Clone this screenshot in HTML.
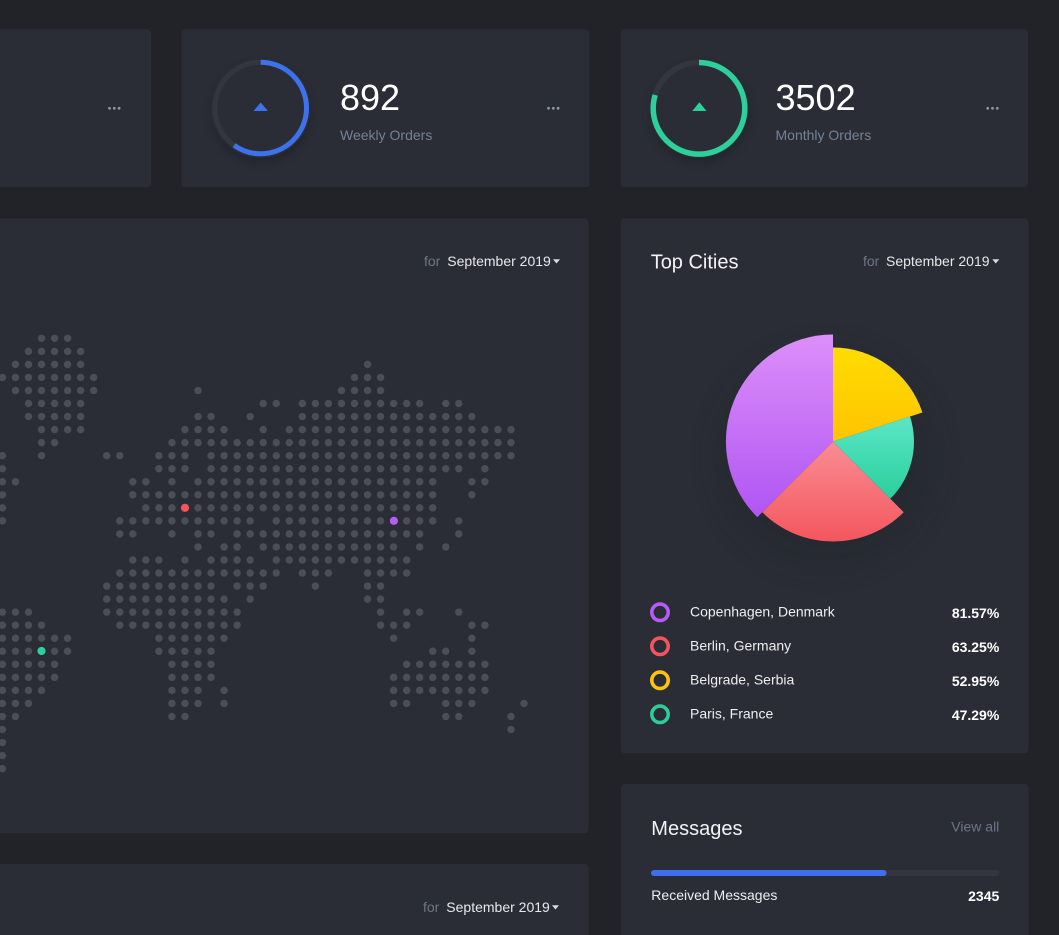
<!DOCTYPE html>
<html><head><meta charset="utf-8"><style>
html,body{margin:0;padding:0;background:#212328;}
svg{display:block;font-family:"Liberation Sans",Arial,sans-serif;}
</style></head><body>
<svg width="1059" height="935" viewBox="0 0 1059 935" xmlns="http://www.w3.org/2000/svg">
<defs>
<linearGradient id="gP" x1="0" y1="0" x2="0" y2="1"><stop offset="0" stop-color="#dc8ff9"/><stop offset="1" stop-color="#b055f3"/></linearGradient>
<linearGradient id="gY" x1="0" y1="0" x2="0" y2="1"><stop offset="0" stop-color="#ffdc00"/><stop offset="1" stop-color="#ffc400"/></linearGradient>
<linearGradient id="gT" x1="0" y1="0" x2="0" y2="1"><stop offset="0" stop-color="#5be6c7"/><stop offset="1" stop-color="#2bcf9c"/></linearGradient>
<linearGradient id="gR" x1="0" y1="0" x2="0" y2="1"><stop offset="0" stop-color="#f98d93"/><stop offset="1" stop-color="#f4565e"/></linearGradient>
<filter id="blur8" x="-50%" y="-50%" width="200%" height="200%"><feGaussianBlur stdDeviation="12"/></filter>
<filter id="blur5" x="-50%" y="-50%" width="200%" height="200%"><feGaussianBlur stdDeviation="5"/></filter>
<clipPath id="mapClip"><rect x="0" y="218" width="588" height="615"/></clipPath>
</defs>

<rect width="1059" height="935" fill="#212328"/>

<!-- cards -->
<rect x="-10" y="29.3" width="161" height="158" rx="4" fill="#2a2d35"/>
<rect x="181.5" y="29.3" width="408" height="158" rx="4" fill="#2a2d35"/>
<rect x="620.7" y="29.3" width="407.3" height="158" rx="4" fill="#2a2d35"/>
<rect x="-10" y="218.3" width="598.5" height="615" rx="4" fill="#2a2d35"/>
<rect x="620.7" y="218.3" width="407.8" height="535" rx="4" fill="#2a2d35"/>
<rect x="621" y="784" width="407.5" height="170" rx="4" fill="#2a2d35"/>
<rect x="-10" y="864" width="598.5" height="90" rx="4" fill="#2a2d35"/>

<!-- top-left card dots -->
<g fill="#8d96a5"><circle cx="109.5" cy="108.3" r="1.4"/><circle cx="114.3" cy="108.3" r="1.4"/><circle cx="119.1" cy="108.3" r="1.4"/></g>

<!-- weekly -->
<circle cx="261" cy="113" r="48" fill="#000" opacity="0.25" filter="url(#blur5)"/>
<circle cx="260.7" cy="108" r="50" fill="#2a2d35"/>
<circle cx="260.7" cy="108" r="45.8" fill="none" stroke="#33363e" stroke-width="5"/>
<circle cx="260.7" cy="108" r="45.8" fill="none" stroke="#3d72ec" stroke-width="5" stroke-dasharray="172 400" transform="rotate(-90 260.7 108)"/>
<polygon points="253.5,111 268,111 260.7,102.5" fill="#3d72ec"/>
<text x="340" y="110" font-size="36" fill="#ffffff">892</text>
<text x="340" y="140" font-size="14" fill="#758195">Weekly Orders</text>
<g fill="#8d96a5"><circle cx="548.5" cy="108.3" r="1.4"/><circle cx="553.3" cy="108.3" r="1.4"/><circle cx="558.1" cy="108.3" r="1.4"/></g>

<!-- monthly -->
<circle cx="699.5" cy="113" r="48" fill="#000" opacity="0.25" filter="url(#blur5)"/>
<circle cx="699" cy="108.3" r="50" fill="#2a2d35"/>
<circle cx="699" cy="108.3" r="45.8" fill="none" stroke="#33363e" stroke-width="5.5"/>
<circle cx="699" cy="108.3" r="45.8" fill="none" stroke="#2dcf9a" stroke-width="5.5" stroke-dasharray="229 400" transform="rotate(-90 699 108.3)"/>
<polygon points="692.3,111 706.5,111 699.4,102.2" fill="#2dcf9a"/>
<text x="775.5" y="110" font-size="36" fill="#ffffff">3502</text>
<text x="775.5" y="140" font-size="14" fill="#758195">Monthly Orders</text>
<g fill="#8d96a5"><circle cx="987.7" cy="108.3" r="1.4"/><circle cx="992.5" cy="108.3" r="1.4"/><circle cx="997.3" cy="108.3" r="1.4"/></g>

<!-- map card header -->
<text x="424" y="266" font-size="14"><tspan fill="#6c7789">for</tspan><tspan x="447.3" fill="#e6e8ec">September 2019</tspan></text>
<polygon points="553,259.3 560,259.3 556.5,263.5" fill="#d8dbe0"/>

<!-- dot map -->
<g clip-path="url(#mapClip)">
<g transform="translate(2.4 338.3) scale(13.04)" stroke="#4a4e58" stroke-width="0.57" stroke-linecap="round" stroke-dasharray="0.001 0.999" fill="none">
<line x1="3" y1="0" x2="5.1" y2="0"/>
<line x1="2" y1="1" x2="6.1" y2="1"/>
<line x1="1" y1="2" x2="6.1" y2="2"/><line x1="28" y1="2" x2="28.1" y2="2"/>
<line x1="0" y1="3" x2="7.1" y2="3"/><line x1="27" y1="3" x2="29.1" y2="3"/>
<line x1="1" y1="4" x2="7.1" y2="4"/><line x1="15" y1="4" x2="15.1" y2="4"/><line x1="26" y1="4" x2="29.1" y2="4"/>
<line x1="2" y1="5" x2="6.1" y2="5"/><line x1="20" y1="5" x2="21.1" y2="5"/><line x1="23" y1="5" x2="32.1" y2="5"/><line x1="34" y1="5" x2="35.1" y2="5"/>
<line x1="2" y1="6" x2="6.1" y2="6"/><line x1="15" y1="6" x2="16.1" y2="6"/><line x1="19" y1="6" x2="19.1" y2="6"/><line x1="23" y1="6" x2="36.1" y2="6"/>
<line x1="3" y1="7" x2="6.1" y2="7"/><line x1="14" y1="7" x2="17.1" y2="7"/><line x1="20" y1="7" x2="20.1" y2="7"/><line x1="22" y1="7" x2="39.1" y2="7"/>
<line x1="3" y1="8" x2="4.1" y2="8"/><line x1="13" y1="8" x2="39.1" y2="8"/>
<line x1="0" y1="9" x2="0.1" y2="9"/><line x1="3" y1="9" x2="3.1" y2="9"/><line x1="8" y1="9" x2="9.1" y2="9"/><line x1="12" y1="9" x2="14.1" y2="9"/><line x1="16" y1="9" x2="39.1" y2="9"/>
<line x1="0" y1="10" x2="0.1" y2="10"/><line x1="12" y1="10" x2="14.1" y2="10"/><line x1="16" y1="10" x2="35.1" y2="10"/><line x1="37" y1="10" x2="37.1" y2="10"/>
<line x1="0" y1="11" x2="1.1" y2="11"/><line x1="10" y1="11" x2="11.1" y2="11"/><line x1="13" y1="11" x2="13.1" y2="11"/><line x1="15" y1="11" x2="33.1" y2="11"/><line x1="36" y1="11" x2="37.1" y2="11"/>
<line x1="0" y1="12" x2="0.1" y2="12"/><line x1="10" y1="12" x2="33.1" y2="12"/><line x1="36" y1="12" x2="36.1" y2="12"/>
<line x1="0" y1="13" x2="0.1" y2="13"/><line x1="11" y1="13" x2="33.1" y2="13"/>
<line x1="0" y1="14" x2="0.1" y2="14"/><line x1="9" y1="14" x2="19.1" y2="14"/><line x1="21" y1="14" x2="33.1" y2="14"/><line x1="35" y1="14" x2="35.1" y2="14"/>
<line x1="9" y1="15" x2="10.1" y2="15"/><line x1="13" y1="15" x2="13.1" y2="15"/><line x1="15" y1="15" x2="16.1" y2="15"/><line x1="18" y1="15" x2="32.1" y2="15"/><line x1="35" y1="15" x2="35.1" y2="15"/>
<line x1="15" y1="16" x2="15.1" y2="16"/><line x1="17" y1="16" x2="18.1" y2="16"/><line x1="20" y1="16" x2="30.1" y2="16"/><line x1="32" y1="16" x2="32.1" y2="16"/><line x1="34" y1="16" x2="34.1" y2="16"/>
<line x1="10" y1="17" x2="12.1" y2="17"/><line x1="14" y1="17" x2="14.1" y2="17"/><line x1="16" y1="17" x2="19.1" y2="17"/><line x1="21" y1="17" x2="31.1" y2="17"/>
<line x1="9" y1="18" x2="21.1" y2="18"/><line x1="23" y1="18" x2="25.1" y2="18"/><line x1="28" y1="18" x2="31.1" y2="18"/>
<line x1="8" y1="19" x2="16.1" y2="19"/><line x1="18" y1="19" x2="20.1" y2="19"/><line x1="24" y1="19" x2="24.1" y2="19"/><line x1="28" y1="19" x2="29.1" y2="19"/>
<line x1="8" y1="20" x2="17.1" y2="20"/><line x1="19" y1="20" x2="19.1" y2="20"/><line x1="28" y1="20" x2="29.1" y2="20"/>
<line x1="0" y1="21" x2="2.1" y2="21"/><line x1="8" y1="21" x2="18.1" y2="21"/><line x1="29" y1="21" x2="29.1" y2="21"/><line x1="31" y1="21" x2="32.1" y2="21"/><line x1="35" y1="21" x2="35.1" y2="21"/>
<line x1="0" y1="22" x2="3.1" y2="22"/><line x1="9" y1="22" x2="18.1" y2="22"/><line x1="29" y1="22" x2="31.1" y2="22"/><line x1="36" y1="22" x2="37.1" y2="22"/>
<line x1="0" y1="23" x2="5.1" y2="23"/><line x1="12" y1="23" x2="17.1" y2="23"/><line x1="30" y1="23" x2="30.1" y2="23"/><line x1="36" y1="23" x2="36.1" y2="23"/>
<line x1="0" y1="24" x2="5.1" y2="24"/><line x1="12" y1="24" x2="16.1" y2="24"/><line x1="33" y1="24" x2="34.1" y2="24"/><line x1="36" y1="24" x2="36.1" y2="24"/>
<line x1="0" y1="25" x2="4.1" y2="25"/><line x1="13" y1="25" x2="16.1" y2="25"/><line x1="31" y1="25" x2="37.1" y2="25"/>
<line x1="0" y1="26" x2="4.1" y2="26"/><line x1="13" y1="26" x2="16.1" y2="26"/><line x1="30" y1="26" x2="37.1" y2="26"/>
<line x1="0" y1="27" x2="3.1" y2="27"/><line x1="13" y1="27" x2="15.1" y2="27"/><line x1="17" y1="27" x2="17.1" y2="27"/><line x1="30" y1="27" x2="37.1" y2="27"/>
<line x1="0" y1="28" x2="2.1" y2="28"/><line x1="13" y1="28" x2="15.1" y2="28"/><line x1="17" y1="28" x2="17.1" y2="28"/><line x1="30" y1="28" x2="31.1" y2="28"/><line x1="34" y1="28" x2="36.1" y2="28"/><line x1="40" y1="28" x2="40.1" y2="28"/>
<line x1="0" y1="29" x2="1.1" y2="29"/><line x1="13" y1="29" x2="14.1" y2="29"/><line x1="34" y1="29" x2="35.1" y2="29"/><line x1="39" y1="29" x2="39.1" y2="29"/>
<line x1="0" y1="30" x2="0.1" y2="30"/><line x1="39" y1="30" x2="39.1" y2="30"/>
<line x1="0" y1="31" x2="0.1" y2="31"/>
<line x1="0" y1="32" x2="0.1" y2="32"/>
<line x1="0" y1="33" x2="0.1" y2="33"/>
</g>
<circle cx="185" cy="507.8" r="4.1" fill="#f4545c"/>
<circle cx="393.9" cy="520.8" r="4.1" fill="#b65cf4"/>
<circle cx="41.5" cy="651" r="4.1" fill="#2bd19b"/>
</g>

<!-- top cities -->
<text x="650.7" y="268.3" font-size="20" fill="#f2f3f5">Top Cities</text>
<text x="863" y="266" font-size="14"><tspan fill="#6c7789">for</tspan><tspan x="886" fill="#e6e8ec">September 2019</tspan></text>
<polygon points="992.3,259.3 999.3,259.3 995.8,263.5" fill="#d8dbe0"/>

<circle cx="826" cy="458" r="112" fill="#1e2025" opacity="0.28" filter="url(#blur8)"/>
<path d="M833 441.5 L757.3 517.2 A107 107 0 0 1 833 334.5 Z" fill="url(#gP)"/>
<path d="M833 441.5 L833 347.5 A94 94 0 0 1 922.4 412.5 Z" fill="url(#gY)"/>
<path d="M833 441.5 L910 416.5 A81 81 0 0 1 890.3 498.8 Z" fill="url(#gT)"/>
<path d="M833 441.5 L903.7 512.2 A100 100 0 0 1 762.3 512.2 Z" fill="url(#gR)"/>

<!-- legend -->
<g fill="none" stroke-width="3.6">
<circle cx="660" cy="612.3" r="8.2" stroke="#b65cf4"/>
<circle cx="660" cy="646.3" r="8.2" stroke="#f1555d"/>
<circle cx="660" cy="680.3" r="8.2" stroke="#ffc20e"/>
<circle cx="660" cy="714.3" r="8.2" stroke="#2dcc98"/>
</g>
<g font-size="14" fill="#eceef1">
<text x="690" y="616.5">Copenhagen, Denmark</text>
<text x="690" y="650.5">Berlin, Germany</text>
<text x="690" y="684.5">Belgrade, Serbia</text>
<text x="690" y="718.5">Paris, France</text>
</g>
<g font-size="14" font-weight="bold" fill="#ffffff" text-anchor="end">
<text x="999.3" y="618">81.57%</text>
<text x="999.3" y="652">63.25%</text>
<text x="999.3" y="686">52.95%</text>
<text x="999.3" y="720">47.29%</text>
</g>

<!-- messages -->
<text x="651.3" y="835" font-size="20" fill="#f2f3f5">Messages</text>
<text x="999.3" y="831.5" font-size="14" fill="#69758a" text-anchor="end">View all</text>
<rect x="651" y="870" width="348.5" height="6" rx="3" fill="#33363e"/>
<rect x="651" y="870" width="235.5" height="6" rx="3" fill="#3d6ff0"/>
<text x="651.3" y="900" font-size="14" fill="#eceef1">Received Messages</text>
<text x="999.3" y="901" font-size="14" font-weight="bold" fill="#ffffff" text-anchor="end">2345</text>

<!-- bottom-left card header -->
<text x="423" y="912" font-size="14"><tspan fill="#6c7789">for</tspan><tspan x="446.3" fill="#e6e8ec">September 2019</tspan></text>
<polygon points="552,905.3 559,905.3 555.5,909.5" fill="#d8dbe0"/>
</svg>
</body></html>
